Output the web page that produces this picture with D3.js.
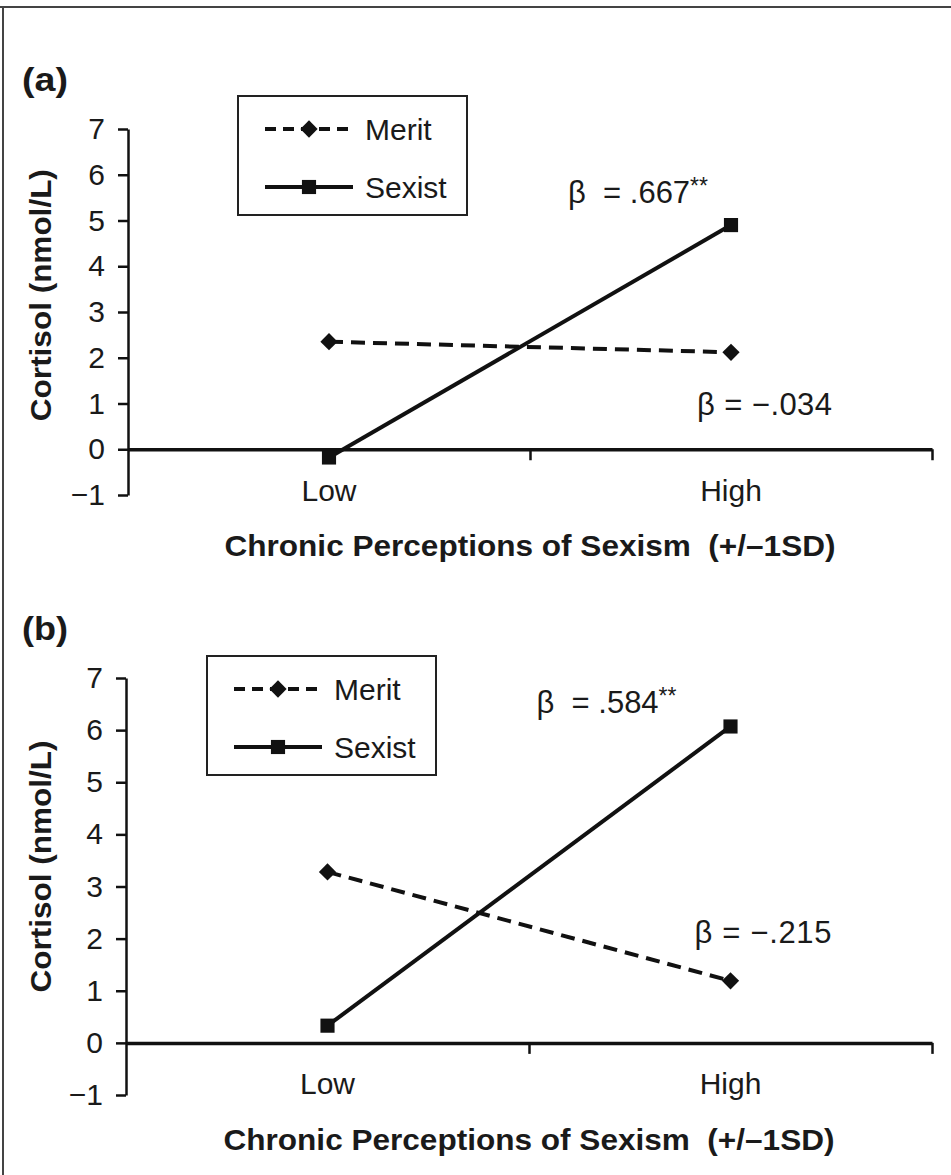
<!DOCTYPE html>
<html>
<head>
<meta charset="utf-8">
<script src="https://cdn.jsdelivr.net/npm/d3@7"></script>
<style>
  body { margin: 0; background: #fff; }
  text { font-family: "Liberation Sans", Arial, Helvetica, sans-serif; fill: #1a1a1a; }
</style>
</head>
<body>
<div id="chart"></div>
<script>
// data
var categories = ["Low", "High"];
var seriesNames = ["Merit", "Sexist"];
var yTicks = [-1, 0, 1, 2, 3, 4, 5, 6, 7];

var meritA = [2.35, 2.12];
var sexistA = [-0.18, 4.90];
var meritB = [3.28, 1.19];
var sexistB = [0.33, 6.07];

var betaLabelsA = [".667", "−.034"];
var betaLabelsB = [".584", "−.215"];

var width = 951, height = 1175;

var svg = d3.select("#chart").append("svg")
  .attr("width", width)
  .attr("height", height);

// frame (top + left edge like the scan)
svg.append("line").attr("x1", 0).attr("x2", width).attr("y1", 7).attr("y2", 7)
  .style("stroke", "#444").style("stroke-width", 2);
svg.append("line").attr("x1", 3).attr("x2", 3).attr("y1", 7).attr("y2", height)
  .style("stroke", "#444").style("stroke-width", 2);

function drawPanel(p) {
  var x = d3.scaleBand().domain(categories).range([p.left, p.right]);
  var xEdge = d3.scalePoint().domain(["a", "b", "c"]).range([p.left, p.right]);
  var y = d3.scaleLinear().domain([-1, 7]).range([p.bottom, p.top]);
  var cx = function (c) { return x(c) + x.bandwidth() / 2; };

  var g = svg.append("g");

  // panel letter
  g.append("text")
    .attr("x", 22).attr("y", p.top - 38)
    .style("font-size", "34px").style("font-weight", "bold")
    .attr("textLength", 46).attr("lengthAdjust", "spacingAndGlyphs")
    .text(p.letter);

  // y axis
  var yAxis = g.append("g")
    .attr("transform", "translate(" + p.left + ",0)")
    .call(d3.axisLeft(y).tickValues(yTicks).tickSize(10).tickSizeOuter(0).tickPadding(13));
  yAxis.select(".domain").style("stroke", "#111").style("stroke-width", 2.5);
  yAxis.selectAll(".tick line").style("stroke", "#111").style("stroke-width", 2.5);
  yAxis.selectAll(".tick text")
    .style("font-size", "30px").style("font-family", "Liberation Sans, Arial, sans-serif")
    .style("fill", "#1a1a1a");

  // x axis drawn at zero, with ticks at the band edges
  var xAxis = g.append("g")
    .attr("transform", "translate(0," + y(0) + ")")
    .call(d3.axisBottom(xEdge).tickSize(11).tickSizeOuter(0).tickFormat(""));
  xAxis.select(".domain").style("stroke", "#111").style("stroke-width", 3.5);
  xAxis.selectAll(".tick line").style("stroke", "#111").style("stroke-width", 2.5);
  xAxis.selectAll(".tick").filter(function (d) { return d === "a"; }).remove();

  var xLab = g.append("g")
    .attr("transform", "translate(0," + y(0) + ")")
    .call(d3.axisBottom(x).tickSize(0).tickPadding(30));
  xLab.select(".domain").remove();
  xLab.selectAll(".tick text")
    .style("font-size", "30px").style("font-family", "Liberation Sans, Arial, sans-serif")
    .style("fill", "#1a1a1a");

  // axis titles
  g.append("text")
    .attr("x", (p.left + p.right) / 2 + 0).attr("y", y(0) + 107)
    .attr("text-anchor", "middle")
    .style("font-size", "30px").style("font-weight", "bold")
    .attr("textLength", 611).attr("lengthAdjust", "spacingAndGlyphs")
    .attr("xml:space", "preserve")
    .text("Chronic Perceptions of Sexism  (+/–1SD)");

  g.append("text")
    .attr("transform", "translate(51," + ((p.top + y(0)) / 2 + 6) + ") rotate(-90)")
    .attr("text-anchor", "middle")
    .style("font-size", "30px").style("font-weight", "bold")
    .attr("textLength", 252).attr("lengthAdjust", "spacingAndGlyphs")
    .text("Cortisol (nmol/L)");

  // lines
  var line = d3.line()
    .x(function (d, i) { return cx(categories[i]); })
    .y(function (d) { return y(d); });

  g.append("path").datum(p.merit)
    .attr("d", line)
    .style("fill", "none").style("stroke", "#111")
    .style("stroke-width", 4).style("stroke-dasharray", "14,8");

  g.append("path").datum(p.sexist)
    .attr("d", line)
    .style("fill", "none").style("stroke", "#111")
    .style("stroke-width", 4);

  var diamond = d3.symbol().type(d3.symbolDiamond2).size(190);
  var square = d3.symbol().type(d3.symbolSquare).size(200);

  g.selectAll("path.merit-pt").data(p.merit).enter()
    .append("path").attr("class", "merit-pt")
    .attr("transform", function (d, i) { return "translate(" + cx(categories[i]) + "," + y(d) + ")"; })
    .attr("d", diamond).style("fill", "#111");

  g.selectAll("path.sexist-pt").data(p.sexist).enter()
    .append("path").attr("class", "sexist-pt")
    .attr("transform", function (d, i) { return "translate(" + cx(categories[i]) + "," + y(d) + ")"; })
    .attr("d", square).style("fill", "#111");

  // beta annotations
  var b1 = g.append("text")
    .attr("x", cx("High") + p.beta1.dx).attr("y", y(p.beta1.v))
    .style("font-size", "31px").attr("xml:space", "preserve");
  b1.append("tspan").text("β  = " + p.betas[0]);
  b1.append("tspan").attr("dy", -9).style("font-size", "23px").text("**");

  g.append("text")
    .attr("x", cx("High") + p.beta2.dx).attr("y", y(p.beta2.v))
    .style("font-size", "31px").attr("xml:space", "preserve")
    .attr("textLength", p.beta2.w).attr("lengthAdjust", "spacing")
    .text("β = " + p.betas[1]);

  // legend
  var lg = g.append("g").attr("transform", "translate(" + p.legend[0] + "," + p.legend[1] + ")");
  lg.append("rect").attr("width", 229).attr("height", 119)
    .style("fill", "#fff").style("stroke", "#222").style("stroke-width", 2);
  seriesNames.forEach(function (name, i) {
    var ry = 33 + i * 58;
    lg.append("line").attr("x1", 27).attr("x2", 115).attr("y1", ry).attr("y2", ry)
      .style("stroke", "#111").style("stroke-width", 4)
      .style("stroke-dasharray", i === 0 ? "11,7" : null);
    lg.append("path").attr("transform", "translate(71," + ry + ")")
      .attr("d", i === 0 ? diamond : square).style("fill", "#111");
    lg.append("text").attr("x", 127).attr("y", ry + 11)
      .style("font-size", "30px").text(name);
  });
}

drawPanel({
  letter: "(a)", merit: meritA, sexist: sexistA, betas: betaLabelsA,
  left: 128, right: 932, top: 129, bottom: 495,
  legend: [238, 96],
  beta1: { v: 5.38, dx: -163 }, beta2: { v: 0.74, dx: -34, w: 135 }
});

drawPanel({
  letter: "(b)", merit: meritB, sexist: sexistB, betas: betaLabelsB,
  left: 126, right: 932, top: 678, bottom: 1095,
  legend: [207, 656],
  beta1: { v: 6.32, dx: -194 }, beta2: { v: 1.92, dx: -36, w: 137 }
});
</script>
</body>
</html>
